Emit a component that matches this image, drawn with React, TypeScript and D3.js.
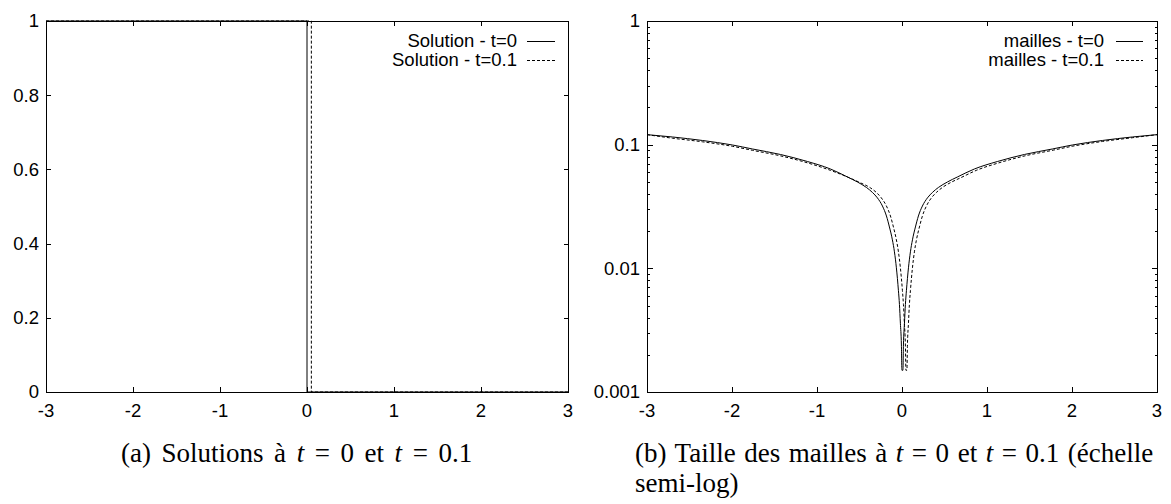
import React from "react";
import * as d3 from "d3";

// ---------- data ----------
const xTickValues = [-3, -2, -1, 0, 1, 2, 3];
const linTickValues = [0, 0.2, 0.4, 0.6, 0.8, 1];
const logTickValues = [0.001, 0.01, 0.1, 1];

// (a) solutions
const solT0x = [-3, 0, 0, 3];
const solT0y = [1, 1, 0, 0];
const solT1x = [-3, 0.05, 0.05, 3];
const solT1y = [1, 1, 0, 0];

// (b) mesh sizes, t = 0
const meshT0x = [
  -3, -2.701, -2.348, -1.995, -1.76, -1.43, -1.113, -0.842, -0.642, -0.524, -0.419, -0.348, -0.289, -0.23, -0.183, -0.148,
  -0.113, -0.089, -0.066, -0.042, -0.03, -0.019, -0.007, -0.001,
  0.011, 0.017, 0.029, 0.04, 0.052, 0.076, 0.099, 0.123, 0.158, 0.193, 0.24, 0.299, 0.358, 0.429, 0.534, 0.652, 0.852, 1.123,
  1.44, 1.77, 2.005, 2.358, 2.711, 3,
];
const meshT0h = [
  0.1205, 0.1154, 0.1081, 0.0994, 0.0923, 0.0833, 0.0731, 0.0636, 0.0548, 0.0499, 0.0451, 0.0411, 0.0371, 0.0319, 0.0265, 0.0216,
  0.017, 0.0136, 0.0101, 0.0066, 0.0051, 0.0036, 0.0024, 0.0015,
  0.0015, 0.0024, 0.0036, 0.0051, 0.0066, 0.0101, 0.0136, 0.017, 0.0216, 0.0265, 0.0319, 0.0371, 0.0411, 0.0451, 0.0499, 0.0548,
  0.0636, 0.0731, 0.0833, 0.0923, 0.0994, 0.1081, 0.1154, 0.1205,
];

// (b) mesh sizes, t = 0.1
const meshT1x = [
  -3, -2.701, -2.348, -1.995, -1.76, -1.43, -1.113, -0.842, -0.62, -0.49, -0.375, -0.302, -0.243, -0.183, -0.136, -0.101,
  -0.066, -0.042, -0.019, 0.005, 0.017, 0.028, 0.04, 0.046,
  0.058, 0.064, 0.076, 0.087, 0.099, 0.123, 0.146, 0.17, 0.205, 0.24, 0.287, 0.346, 0.405, 0.476, 0.575, 0.69, 0.88, 1.14,
  1.45, 1.78, 2.01, 2.36, 2.71, 3,
];
const meshT1h = [
  0.1205, 0.1128, 0.1055, 0.097, 0.09, 0.0812, 0.0713, 0.062, 0.054, 0.0492, 0.0449, 0.0411, 0.0371, 0.0319, 0.0265, 0.0216,
  0.017, 0.0136, 0.0101, 0.0066, 0.0051, 0.0036, 0.0024, 0.0015,
  0.0015, 0.0024, 0.0036, 0.0051, 0.0066, 0.0101, 0.0136, 0.017, 0.0216, 0.0265, 0.0319, 0.0371, 0.0411, 0.0451, 0.0495, 0.054,
  0.0622, 0.0713, 0.0813, 0.0903, 0.0973, 0.1062, 0.1138, 0.1205,
];

const legendA = ["Solution - t=0", "Solution - t=0.1"];
const legendB = ["mailles - t=0", "mailles - t=0.1"];

// ---------- layout ----------
const W = 1171;
const H = 504;
const TOP = 21;
const BOTTOM = 392;
const SANS = "'Liberation Sans', Arial, Helvetica, sans-serif";
const SERIF = "'Liberation Serif', 'Times New Roman', serif";
const TICK_FS = 18.5;
const LEG_FS = 18.5;
const DASH = "3,2";

const xL = d3.scaleLinear().domain([-3, 3]).range([46, 568]);
const yL = d3.scaleLinear().domain([0, 1]).range([BOTTOM, TOP]);
const xR = d3.scaleLinear().domain([-3, 3]).range([647, 1157]);
const yR = d3.scaleLog().domain([0.001, 1]).range([BOTTOM, TOP]);

function zip(xs: number[], ys: number[]): [number, number][] {
  return xs.map((x, i) => [x, ys[i]]);
}

function Frame({ x0, x1 }: { x0: number; x1: number }) {
  return (
    <rect x={x0 + 0.5} y={TOP + 0.5} width={x1 - x0} height={BOTTOM - TOP} fill="none" stroke="#000" strokeWidth={1} />
  );
}

function XTicks({ sx }: { sx: d3.ScaleLinear<number, number> }) {
  return (
    <g>
      {xTickValues.map((v) => {
        const x = Math.round(sx(v)) + 0.5;
        return (
          <g key={v}>
            <line x1={x} x2={x} y1={BOTTOM} y2={BOTTOM - 5} stroke="#000" />
            <line x1={x} x2={x} y1={TOP} y2={TOP + 5} stroke="#000" />
            <text x={sx(v)} y={417} textAnchor="middle" fontFamily={SANS} fontSize={TICK_FS}>
              {String(v)}
            </text>
          </g>
        );
      })}
    </g>
  );
}

function Legend({ xText, xs, xe, labels }: { xText: number; xs: number; xe: number; labels: string[] }) {
  const rows = [41.5, 60.5];
  return (
    <g>
      {labels.map((l, i) => (
        <g key={l}>
          <text x={xText} y={rows[i] + 5} textAnchor="end" fontFamily={SANS} fontSize={LEG_FS}>
            {l}
          </text>
          <line x1={xs} x2={xe} y1={rows[i]} y2={rows[i]} stroke="#000" strokeWidth={1} strokeDasharray={i === 1 ? DASH : undefined} />
        </g>
      ))}
    </g>
  );
}

export default function App() {
  const lineA = d3
    .line<[number, number]>()
    .x((d) => xL(d[0]))
    .y((d) => yL(d[1]));
  const lineB = d3
    .line<[number, number]>()
    .x((d) => xR(d[0]))
    .y((d) => yR(d[1]))
    .curve(d3.curveMonotoneX);

  const x0L = Math.round(xL(-3));
  const x1L = Math.round(xL(3));
  const x0R = Math.round(xR(-3));
  const x1R = Math.round(xR(3));

  const minorLog = yR.ticks().filter((v) => !logTickValues.some((t) => Math.abs(t - v) < 1e-12));

  return (
    <svg width={W} height={H} style={{ position: "absolute", left: 0, top: 0, background: "#fff" }}>
      <rect x={0} y={0} width={W} height={H} fill="#fff" />

      {/* ---------- (a) ---------- */}
      <g>
        {linTickValues.map((v) => {
          const y = Math.round(yL(v)) + 0.5;
          return (
            <g key={v}>
              <line x1={x0L} x2={x0L + 5} y1={y} y2={y} stroke="#000" />
              <line x1={x1L + 1} x2={x1L - 4} y1={y} y2={y} stroke="#000" />
              <text x={x0L - 7} y={yL(v)} dy="0.35em" textAnchor="end" fontFamily={SANS} fontSize={TICK_FS}>
                {String(v)}
              </text>
            </g>
          );
        })}
        <XTicks sx={xL} />
        <path d={lineA(zip(solT0x, solT0y)) || ""} fill="none" stroke="#000" strokeWidth={1} />
        <path d={lineA(zip(solT1x, solT1y)) || ""} fill="none" stroke="#000" strokeWidth={1} strokeDasharray={DASH} />
        <Frame x0={x0L} x1={x1L} />
        <Legend xText={517} xs={527} xe={555} labels={legendA} />
      </g>

      {/* ---------- (b) ---------- */}
      <g>
        {logTickValues.map((v) => {
          const y = Math.round(yR(v)) + 0.5;
          return (
            <g key={v}>
              <line x1={x0R} x2={x0R + 6} y1={y} y2={y} stroke="#000" />
              <line x1={x1R + 1} x2={x1R - 5} y1={y} y2={y} stroke="#000" />
              <text x={x0R - 7} y={yR(v)} dy="0.35em" textAnchor="end" fontFamily={SANS} fontSize={TICK_FS}>
                {String(v)}
              </text>
            </g>
          );
        })}
        {minorLog.map((v) => {
          const y = Math.round(yR(v)) + 0.5;
          return (
            <g key={"m" + v}>
              <line x1={x0R} x2={x0R + 3} y1={y} y2={y} stroke="#000" />
              <line x1={x1R + 1} x2={x1R - 2} y1={y} y2={y} stroke="#000" />
            </g>
          );
        })}
        <XTicks sx={xR} />
        <path d={lineB(zip(meshT0x, meshT0h)) || ""} fill="none" stroke="#000" strokeWidth={1} />
        <path d={lineB(zip(meshT1x, meshT1h)) || ""} fill="none" stroke="#000" strokeWidth={1} strokeDasharray={DASH} />
        <Frame x0={x0R} x1={x1R} />
        <Legend xText={1104} xs={1116} xe={1143} labels={legendB} />
      </g>

      {/* ---------- captions ---------- */}
      <text x={121} y={462} fontFamily={SERIF} fontSize={27} style={{ wordSpacing: "3.8px" }}>
        (a) Solutions à <tspan fontStyle="italic">t</tspan> = 0 et <tspan fontStyle="italic">t</tspan> = 0.1
      </text>
      <text x={635} y={462} fontFamily={SERIF} fontSize={27} style={{ wordSpacing: "1.8px" }}>
        (b) Taille des mailles à <tspan fontStyle="italic">t</tspan> = 0 et <tspan fontStyle="italic">t</tspan> = 0.1 (échelle
      </text>
      <text x={635} y={492} fontFamily={SERIF} fontSize={27}>
        semi-log)
      </text>
    </svg>
  );
}
